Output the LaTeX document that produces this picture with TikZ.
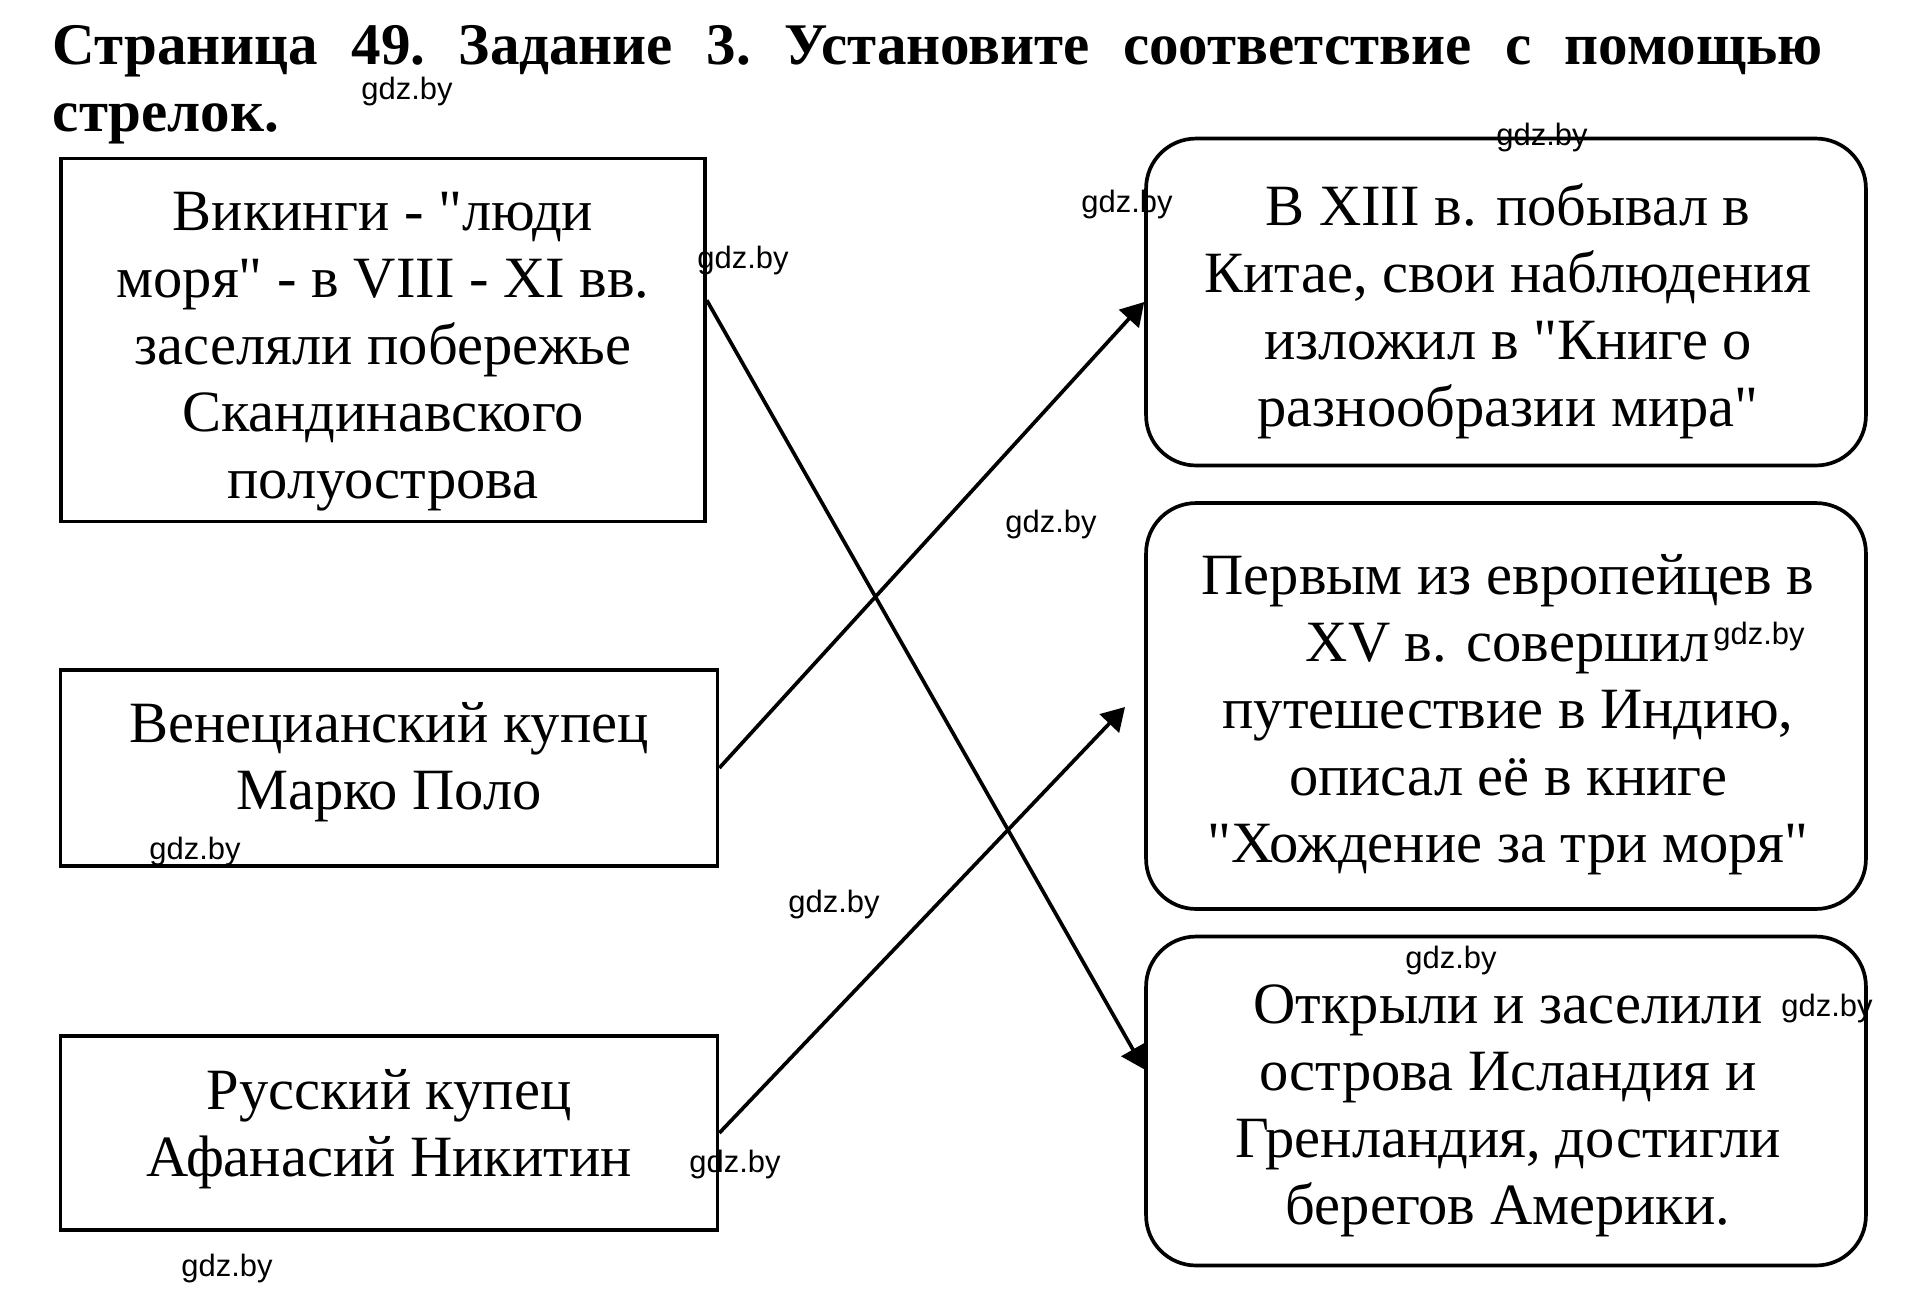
\documentclass[tikz,border=0pt]{standalone}
\usepackage{fontspec}
\setmainfont{Liberation Serif}[Ligatures=TeXOff]
\newfontfamily\wmfont{Liberation Sans}
\usetikzlibrary{arrows.meta}

\begin{document}
\begin{tikzpicture}[x=0.02cm,y=-0.02cm,->,>={Triangle[length=13pt,width=15pt]},line width=2.1pt]
\tikzstyle{every node}=[inner sep=0pt]
\tikzstyle{lbox}=[draw,rectangle]
\tikzstyle{rbox}=[lbox,rounded corners=1cm]
\tikzstyle{txt}=[align=center,font=\fontsize{33.3}{38.1}\selectfont]
\tikzstyle{wm}=[font=\wmfont\fontsize{17.6}{20}\selectfont]
\useasboundingbox (0,0) rectangle (1907,1303);
\node[anchor=north west,text width=35.4cm,align=justify,font=\bfseries\fontsize{33.6}{37.6}\selectfont] (title) at (51,24)
  {\frenchspacing Страница 49. Задание 3. Установите соответствие с помощью стрелок.};
% frames
\node[lbox,minimum width=12.88cm,minimum height=7.26cm] (vik) at (383,340) {};
\node[lbox,minimum width=13.14cm,minimum height=3.92cm] (marco) at (389,768) {};
\node[lbox,minimum width=13.14cm,minimum height=3.88cm] (nik) at (389,1133) {};
\node[rbox,minimum width=14.4cm,minimum height=6.54cm] (china) at (1506,302) {};
\node[rbox,minimum width=14.4cm,minimum height=8.12cm] (india) at (1506,706) {};
\node[rbox,minimum width=14.4cm,minimum height=6.58cm] (isl) at (1506,1101) {};
% texts
\node[txt] (vikt) at (383,352)
  {Викинги - "люди\\моря" - в VIII - XI вв.\\заселяли побережье\\Скандинавского\\полуострова};
\node[txt] (marcot) at (389,762) {Венецианский купец\\Марко Поло};
\node[txt] (nikt) at (389,1129) {Русский купец\\Афанасий Никитин};
\node[txt] (chinat) at (1508,311)
  {В XIII в. побывал в\\Китае, свои наблюдения\\изложил в "Книге о\\разнообразии мира"};
\node[txt] (indiat) at (1508,715)
  {Первым из европейцев в\\XV в. совершил\\путешествие в Индию,\\описал её в книге\\"Хождение за три моря"};
\node[txt] (islt) at (1508,1111)
  {Открыли и заселили\\острова Исландия и\\Гренландия, достигли\\берегов Америки.};
% arrows
\coordinate (t) at (1125,707);
\path (vik.7) edge (isl.175)
      (marco.east) edge (china.west)
      (nik.east) edge (t);
% watermarks
\node[wm] (w1) at (407,91) {gdz.by};
\node[wm] (w2) at (1542,137) {gdz.by};
\node[wm] (w3) at (1127,204) {gdz.by};
\node[wm] (w4) at (743,260) {gdz.by};
\node[wm] (w5) at (1051,524) {gdz.by};
\node[wm] (w6) at (1759,636) {gdz.by};
\node[wm] (w7) at (195,851) {gdz.by};
\node[wm] (w8) at (834,904) {gdz.by};
\node[wm] (w9) at (1451,960) {gdz.by};
\node[wm] (w10) at (1827,1008) {gdz.by};
\node[wm] (w11) at (735,1164) {gdz.by};
\node[wm] (w12) at (227,1268) {gdz.by};
\end{tikzpicture}
\end{document}
